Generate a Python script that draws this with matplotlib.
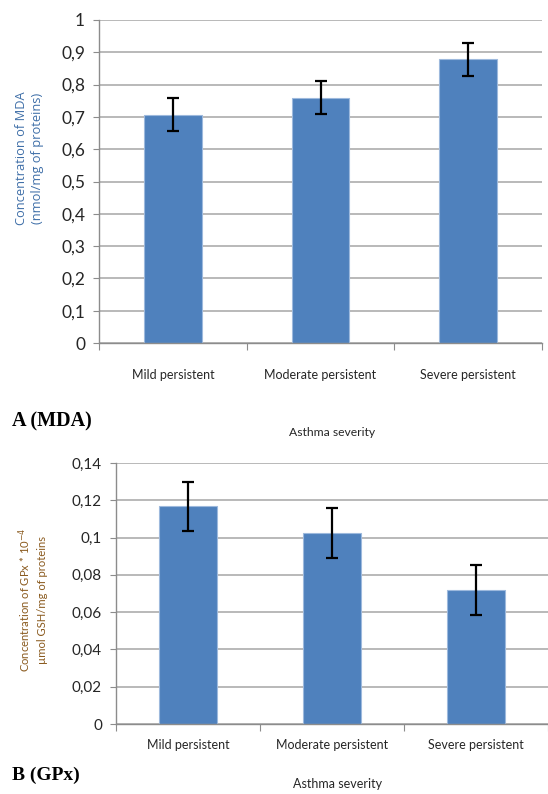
import numpy as np
import matplotlib
matplotlib.use("Agg")
import matplotlib.pyplot as plt
from matplotlib.ticker import FuncFormatter

# ============================================================
# DATA
# ============================================================

categories = ["Mild persistent", "Moderate persistent", "Severe persistent"]

mda_values = [0.707, 0.760, 0.878]
mda_errors = [0.050, 0.050, 0.050]
mda_ticks = [0, 0.1, 0.2, 0.3, 0.4, 0.5, 0.6, 0.7, 0.8, 0.9, 1.0]

gpx_values = [0.1167, 0.1025, 0.0717]
gpx_errors = [0.0133, 0.0133, 0.0135]
gpx_ticks = [0, 0.02, 0.04, 0.06, 0.08, 0.10, 0.12, 0.14]

BAR_COLOR = "#4F81BD"
GRID_COLOR = "#A6A6A6"
W, H = 548, 794
SANS = ["Lato", "DejaVu Sans"]


def comma_fmt(v, pos):
    return f"{v:g}".replace(".", ",")


def fx(px):
    return px / W


def fy(py):
    return 1 - py / H


def style_axes(ax, ticks, tick_size, xlab_size, xpad):
    x = np.arange(len(categories))
    ax.set_xlim(-0.5, len(categories) - 0.5)
    ax.set_ylim(ticks[0], ticks[-1])
    ax.set_yticks(ticks)
    ax.yaxis.set_major_formatter(FuncFormatter(comma_fmt))
    ax.grid(axis="y", color=GRID_COLOR, linewidth=1.1)
    ax.set_axisbelow(True)
    for side in ["top", "right"]:
        ax.spines[side].set_visible(False)
    for side in ["left", "bottom"]:
        ax.spines[side].set_color("#8C8C8C")
        ax.spines[side].set_linewidth(1.0)
    ax.tick_params(axis="y", length=4, color="#8C8C8C", labelsize=tick_size,
                   labelcolor="#262626", pad=6)
    # category boundary ticks on x axis
    ax.set_xticks(np.arange(len(categories) + 1) - 0.5)
    ax.set_xticklabels([])
    ax.tick_params(axis="x", length=5, color="#8C8C8C")
    for i, c in enumerate(categories):
        ax.annotate(c, xy=(x[i], 0), xycoords=("data", "axes fraction"),
                    xytext=(0, -xpad), textcoords="offset pixels",
                    ha="center", va="center", fontsize=xlab_size,
                    family=SANS, color="#262626")
    for lab in ax.get_yticklabels():
        lab.set_family(SANS)


fig = plt.figure(figsize=(W / 100, H / 100), dpi=100)

# ============================================================
# PANEL A (MDA)
# ============================================================

ax1 = fig.add_axes([fx(99), fy(343), fx(542) - fx(99), fy(20) - fy(343)])
ax1.bar(np.arange(len(categories)), mda_values, width=0.39, color=BAR_COLOR,
        edgecolor="#9DB9DD", linewidth=0.8, zorder=2)
ax1.errorbar(np.arange(len(categories)), mda_values, yerr=mda_errors,
             fmt="none", ecolor="black", elinewidth=1.6, capsize=4,
             capthick=1.6, zorder=3)
style_axes(ax1, mda_ticks, 12.5, 9, 32)

fig.text(fx(30), fy(158), "Concentration of MDA\n(nmol/mg of proteins)",
         rotation=90, ha="center", va="center", fontsize=9.3,
         family=["Open Sans", "DejaVu Sans"], color="#3F6FA8",
         linespacing=1.3)
fig.text(fx(12), fy(421), "A (MDA)", ha="left", va="center", fontsize=14.5,
         family=["Liberation Serif", "DejaVu Serif"], weight="bold")
fig.text(fx(332), fy(433), "Asthma severity", ha="center", va="center",
         fontsize=8.7, family=SANS, color="#262626")

# ============================================================
# PANEL B (GPx)
# ============================================================

ax2 = fig.add_axes([fx(116), fy(724), fx(548) - fx(116), fy(463) - fy(724)])
ax2.bar(np.arange(len(categories)), gpx_values, width=0.40, color=BAR_COLOR,
        edgecolor="#9DB9DD", linewidth=0.8, zorder=2)
ax2.errorbar(np.arange(len(categories)), gpx_values, yerr=gpx_errors,
             fmt="none", ecolor="black", elinewidth=1.6, capsize=4,
             capthick=1.6, zorder=3)
style_axes(ax2, gpx_ticks, 11, 9, 21)

fig.text(fx(32), fy(600),
         "Concentration of GPx * 10$^{-4}$\n\u00b5mol GSH/mg of proteins",
         rotation=90, ha="center", va="center", fontsize=8.1,
         family=SANS, color="#8A5A1E", linespacing=1.5)
fig.text(fx(12), fy(775), "B (GPx)", ha="left", va="center", fontsize=14,
         family=["Liberation Serif", "DejaVu Serif"], weight="bold")
fig.text(fx(338), fy(784), "Asthma severity", ha="center", va="center",
         fontsize=9, family=SANS, color="#262626")

plt.savefig("out.png", dpi=100)
plt.close()
